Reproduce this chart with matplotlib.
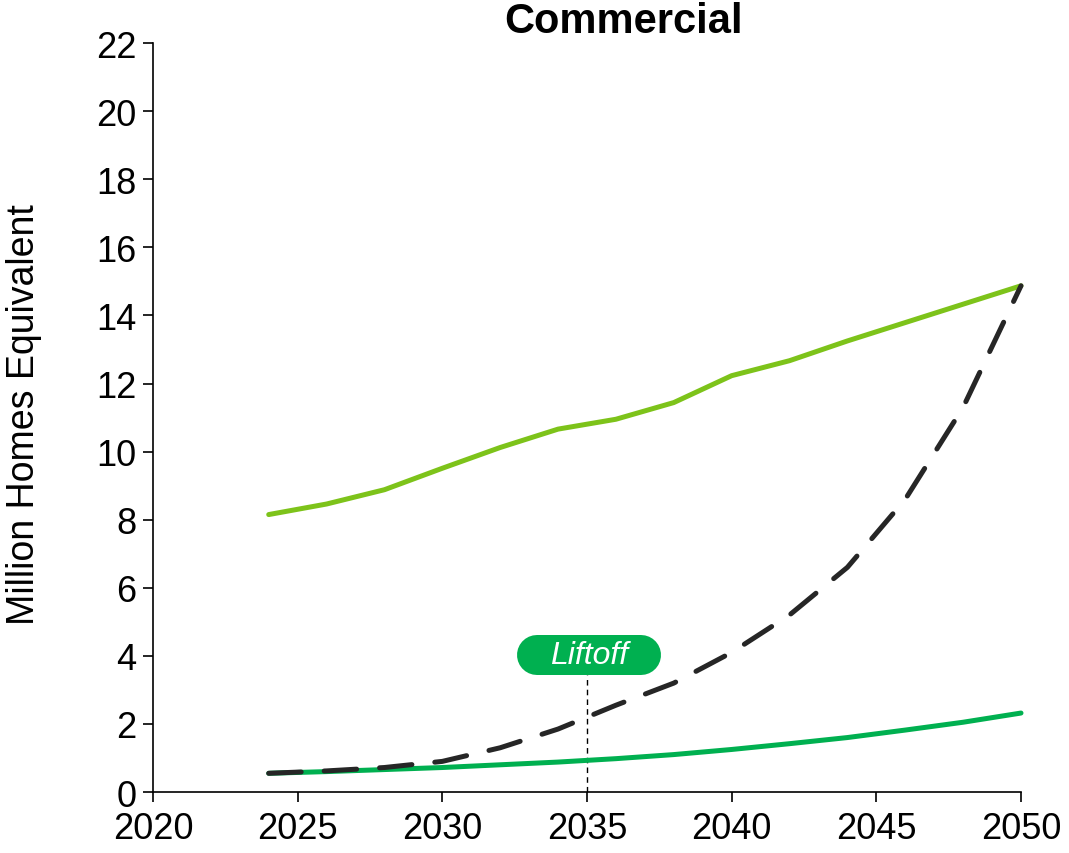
import matplotlib
matplotlib.use("Agg")
import matplotlib.pyplot as plt

years = [2024, 2026, 2028, 2030, 2032, 2034, 2036, 2038, 2040, 2042, 2044, 2046, 2048, 2050]
upper = [8.15, 8.46, 8.88, 9.51, 10.12, 10.66, 10.95, 11.44, 12.23, 12.67, 13.25, 13.79, 14.33, 14.87]
liftoff = [0.55, 0.62, 0.72, 0.90, 1.30, 1.85, 2.55, 3.20, 4.10, 5.20, 6.60, 8.60, 11.30, 14.87]
baseline = [0.55, 0.60, 0.66, 0.72, 0.80, 0.88, 0.98, 1.10, 1.25, 1.42, 1.60, 1.82, 2.05, 2.32]
xticks = [2020, 2025, 2030, 2035, 2040, 2045, 2050]
yticks = list(range(0, 23, 2))
liftoff_year = 2035
liftoff_label_y = 4.02

plt.rcParams['font.family'] = ['Liberation Sans', 'DejaVu Sans']

fig = plt.figure(figsize=(10.69, 8.54), dpi=100)
ax = fig.add_axes([0.1431, 0.0714, 0.812, 0.877])

LW = 3.6
ax.plot(years, upper, color='#7DC31A', lw=LW, solid_capstyle='round', clip_on=False, zorder=3)
ax.plot(years, baseline, color='#00B050', lw=LW, solid_capstyle='round', clip_on=False, zorder=3)
ax.plot(years, liftoff, color='#262626', lw=LW, dashes=(6.5, 4.6), dash_capstyle='round',
        clip_on=False, zorder=4)

# Liftoff marker: pill drawn as thick round-capped segment
pill_half = 1.81   # half-length of straight part, in years
pill_h = 1.17      # pill height in data units (~40 px)
cx = liftoff_year + 0.07
ax.plot([liftoff_year, liftoff_year], [0, liftoff_label_y - pill_h / 2], color='black', lw=1,
        dashes=(4, 3), zorder=2)
ax.plot([cx - pill_half, cx + pill_half], [liftoff_label_y, liftoff_label_y], color='#00B050',
        lw=28.8, solid_capstyle='round', zorder=5, clip_on=False)
ax.text(cx, liftoff_label_y, 'Liftoff', color='white', fontsize=23, style='italic',
        ha='center', va='center', zorder=6)

ax.set_xlim(2020, 2050)
ax.set_ylim(0, 22)
ax.set_xticks(xticks)
ax.set_yticks(yticks)
ax.tick_params(labelsize=26, length=7, width=1.2, direction='out', pad=5)
ax.tick_params(axis='x', pad=7)
for s in ['top', 'right']:
    ax.spines[s].set_visible(False)
for s in ['left', 'bottom']:
    ax.spines[s].set_linewidth(1.2)

fig.text(24 / 1069, 1 - 415 / 854, 'Million Homes Equivalent', fontsize=27, rotation=90,
         ha='center', va='center')
fig.text(624 / 1069, 1 - 22 / 854, 'Commercial', fontsize=30, fontweight='bold',
         ha='center', va='center')

fig.savefig('out.png', dpi=100)
